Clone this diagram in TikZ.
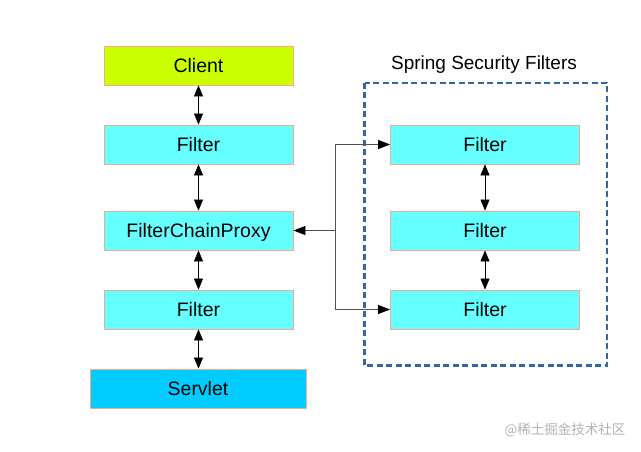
\documentclass[tikz,border=0pt]{standalone}
\usepackage{fontspec}
\setmainfont{Liberation Sans}
\newfontfamily\cjk{Noto Sans CJK SC}
\usetikzlibrary{arrows.meta}
\definecolor{clientc}{HTML}{CCFF00}
\definecolor{filterc}{HTML}{66FFFF}
\definecolor{servletc}{HTML}{00CCFF}
\definecolor{boxline}{HTML}{F4A890}
\definecolor{dashc}{HTML}{3465A4}
\definecolor{linec}{HTML}{505050}
\begin{document}
\begin{tikzpicture}[x=1pt,y=-1pt,
  box/.style={draw=boxline,line width=0.8pt,minimum width=189pt,minimum height=39pt,inner sep=0pt,text height=14pt,text depth=0pt,font=\fontsize{19.5}{21}\selectfont,anchor=center},
  dbl/.style={draw=black,line width=0.6pt,{Triangle[length=11pt,width=9pt]}-{Triangle[length=11pt,width=9pt]}},
  sgl/.style={draw=linec,line width=0.8pt,-{Triangle[length=12pt,width=9pt,fill=black,color=black]}}]
\useasboundingbox (0,0) rectangle (641,452);
\fill[white] (0,0) rectangle (641,452);
\node[box,fill=clientc] (client) at (198.5,65.5) {Client};
\node[box,fill=filterc] (f1) at (198.5,144.5) {Filter};
\node[box,fill=filterc] (fcp) at (198.5,230.5) {FilterChainProxy};
\node[box,fill=filterc] (f2) at (198.5,309.5) {Filter};
\node[box,fill=servletc,minimum width=216pt] (servlet) at (198,388.5) {Servlet};
\node[box,fill=filterc] (s1) at (485,144.5) {Filter};
\node[box,fill=filterc] (s2) at (485,230.5) {Filter};
\node[box,fill=filterc] (s3) at (485,309.5) {Filter};
\draw[dashc,line width=2.6pt,dash pattern=on 6pt off 3.5pt] (364.5,83) rectangle (607,365.5);
\node[font=\fontsize{19}{21}\selectfont] (title) at (484,65) {Spring Security Filters};
\draw[dbl] (client) -- (f1);
\draw[dbl] (f1) -- (fcp);
\draw[dbl] (fcp) -- (f2);
\draw[dbl] (f2) -- (servlet.north -| f2.south);
\draw[dbl] (s1) -- (s2);
\draw[dbl] (s2) -- (s3);
\coordinate (j) at (335,230.5);
\draw[sgl] (j) -- (fcp.east);
\draw[sgl] (j) |- (s1.west);
\draw[sgl] (j) |- (s3.west);
\node[text=black!30,font=\cjk\fontsize{13.5}{15}\selectfont,anchor=east] (wm) at (629,430) {@稀土掘金技术社区};
\end{tikzpicture}
\end{document}
